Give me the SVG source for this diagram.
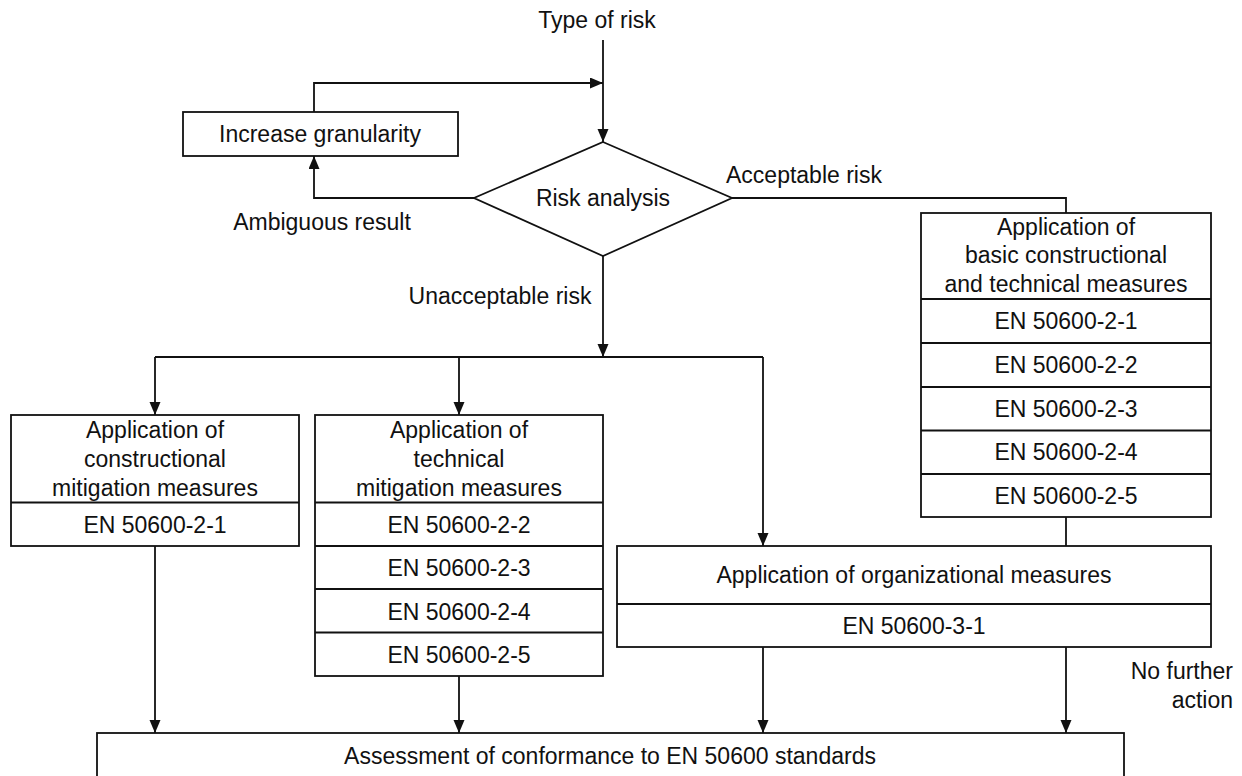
<svg xmlns="http://www.w3.org/2000/svg" width="1242" height="776" viewBox="0 0 1242 776">
<defs>
<style>
text{font-family:"Liberation Sans",Arial,sans-serif;font-size:23px;fill:#111;}
.c{text-anchor:middle;}
.r{text-anchor:end;}
.box{fill:#fff;stroke:#111;stroke-width:1.8;}
.div{stroke:#111;stroke-width:1.8;fill:none;}
.conn{stroke:#111;stroke-width:1.8;fill:none;}
.arr{marker-end:url(#ah);}
</style>
<marker id="ah" markerUnits="userSpaceOnUse" markerWidth="14" markerHeight="12" refX="13" refY="5.5" orient="auto">
<path d="M0,0 L13,5.5 L0,11 z" fill="#111"/>
</marker>
</defs>
<rect width="1242" height="776" fill="#fff"/>

<g id="connectors">
<path class="conn arr" d="M603,40 V142"/>
<path class="conn arr" d="M314,112 V83 H603"/>
<path class="conn arr" d="M474,198 H314 V156"/>
<path class="conn" d="M732,198 H1066 V213"/>
<path class="conn arr" d="M603,256 V357"/>
<path class="conn" d="M155,357 H763"/>
<path class="conn arr" d="M155,357 V415"/>
<path class="conn arr" d="M459,357 V415"/>
<path class="conn arr" d="M763,357 V546"/>
<path class="conn" d="M1066,517 V546"/>
<path class="conn arr" d="M155,546 V733"/>
<path class="conn arr" d="M459,676 V733"/>
<path class="conn arr" d="M763,647 V733"/>
<path class="conn arr" d="M1066,647 V733"/>
</g>

<g id="labels">
<text class="c" x="597" y="28">Type of risk</text>
<text class="c" x="322" y="230">Ambiguous result</text>
<text x="726" y="183">Acceptable risk</text>
<text class="c" x="500" y="304">Unacceptable risk</text>
<text class="r" x="1233" y="679">No further</text>
<text class="r" x="1233" y="708">action</text>
</g>

<g id="increase-granularity">
<rect class="box" x="183" y="112" width="275" height="44"/>
<text class="c" x="320" y="142">Increase granularity</text>
</g>

<g id="risk-analysis">
<polygon class="box" points="603,142 732,198 603,256 474,198" stroke-width="1.5"/>
<text class="c" x="603" y="206">Risk analysis</text>
</g>

<g id="basic-measures">
<rect class="box" x="921" y="213" width="290" height="304"/>
<path class="div" d="M921,299 H1211 M921,343 H1211 M921,387 H1211 M921,430.5 H1211 M921,474 H1211"/>
<text class="c" x="1066" y="235">Application of</text>
<text class="c" x="1066" y="263">basic constructional</text>
<text class="c" x="1066" y="292">and technical measures</text>
<text class="c" x="1066" y="329">EN 50600-2-1</text>
<text class="c" x="1066" y="373">EN 50600-2-2</text>
<text class="c" x="1066" y="417">EN 50600-2-3</text>
<text class="c" x="1066" y="460">EN 50600-2-4</text>
<text class="c" x="1066" y="504">EN 50600-2-5</text>
</g>

<g id="constructional-measures">
<rect class="box" x="11" y="415" width="288" height="131"/>
<path class="div" d="M11,502.5 H299"/>
<text class="c" x="155" y="438">Application of</text>
<text class="c" x="155" y="467">constructional</text>
<text class="c" x="155" y="496">mitigation measures</text>
<text class="c" x="155" y="533">EN 50600-2-1</text>
</g>

<g id="technical-measures">
<rect class="box" x="315" y="415" width="288" height="261"/>
<path class="div" d="M315,502.5 H603 M315,546 H603 M315,589 H603 M315,632.5 H603"/>
<text class="c" x="459" y="438">Application of</text>
<text class="c" x="459" y="467">technical</text>
<text class="c" x="459" y="496">mitigation measures</text>
<text class="c" x="459" y="533">EN 50600-2-2</text>
<text class="c" x="459" y="576">EN 50600-2-3</text>
<text class="c" x="459" y="620">EN 50600-2-4</text>
<text class="c" x="459" y="663">EN 50600-2-5</text>
</g>

<g id="organizational-measures">
<rect class="box" x="617" y="546" width="594" height="101"/>
<path class="div" d="M617,604 H1211"/>
<text class="c" x="914" y="583">Application of organizational  measures</text>
<text class="c" x="914" y="634">EN 50600-3-1</text>
</g>

<g id="assessment">
<rect class="box" x="97" y="733" width="1027" height="70"/>
<text class="c" x="610" y="764">Assessment of conformance to EN 50600 standards</text>
</g>
</svg>
